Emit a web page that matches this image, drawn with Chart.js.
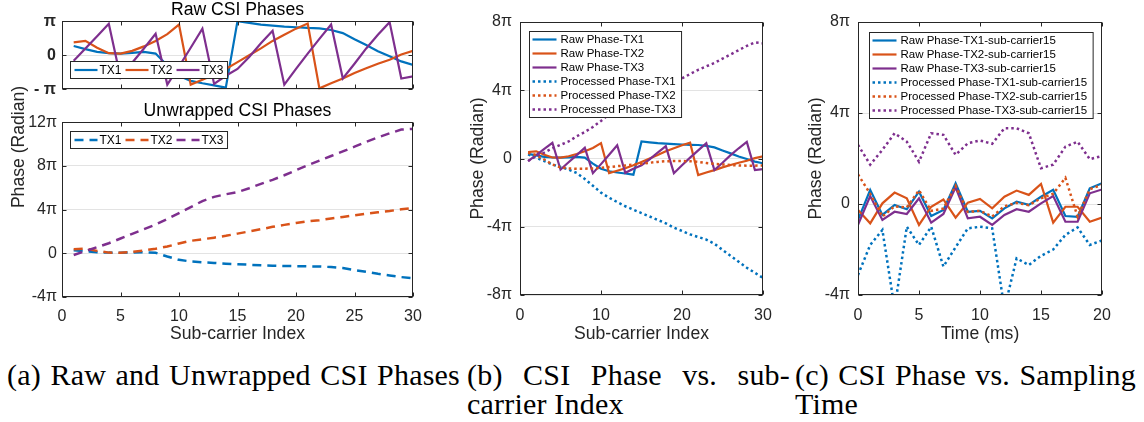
<!DOCTYPE html>
<html>
<head>
<meta charset="utf-8">
<script src="https://cdn.jsdelivr.net/npm/chart.js@4.4.0/dist/chart.umd.min.js"></script>
<style>
  body { margin: 0; background: #fff; width: 1144px; height: 422px; position: relative; overflow: hidden; }
  canvas { position: absolute; }
  .cap { position: absolute; font-family: "Liberation Serif", "DejaVu Serif", serif; font-size: 30px; letter-spacing: 0.2px;
         line-height: 30px; color: #000; white-space: nowrap; text-align: justify; text-align-last: justify; }
  .cap.last { text-align: left; text-align-last: left; }
  .ylab { position: absolute; width: 140px; height: 20px; line-height: 20px; text-align: center;
          font-family: "Liberation Sans", Arial, sans-serif; font-size: 17.6px; color: #262626; transform: rotate(-90deg); }
</style>
</head>
<body>
<canvas id="aTop" width="430" height="105" style="left:0;top:0"></canvas>
<canvas id="aBot" width="430" height="245" style="left:0;top:100px"></canvas>
<canvas id="b" width="320" height="345" style="left:460px;top:0"></canvas>
<canvas id="c" width="320" height="345" style="left:800px;top:0"></canvas>
<div class="ylab" style="left:-52px;top:137px">Phase (Radian)</div>
<div class="cap" style="left:7px;top:360px;width:453px">(a) Raw and Unwrapped CSI Phases</div>
<div class="cap" style="left:467px;top:360px;width:323px">(b) CSI Phase vs. sub-</div>
<div class="cap last" style="left:467px;top:389px">carrier Index</div>
<div class="cap" style="left:795px;top:360px;width:341px">(c) CSI Phase vs. Sampling</div>
<div class="cap last" style="left:795px;top:389px">Time</div>
<script>
// values are in units of pi
const subcarrier = [1,2,3,4,5,6,7,8,9,10,11,12,13,14,15,16,17,18,19,20,21,22,23,24,25,26,27,28,29,30];
const timeMs = [0,1,2,3,4,5,6,7,8,9,10,11,12,13,14,15,16,17,18,19,20];

const rawTX1 = [0.27,0.18,0.10,0.06,0.05,0.07,0.10,0.05,-0.30,-0.60,-0.75,-0.82,-0.88,-0.95,1.00,0.95,0.90,0.87,0.84,0.82,0.80,0.79,0.74,0.65,0.47,0.30,0.12,-0.03,-0.18,-0.28];
const rawTX2 = [0.38,0.42,0.22,0.06,0.05,0.13,0.26,0.42,0.62,0.90,-0.86,-0.72,-0.57,-0.40,-0.20,0.00,0.20,0.42,0.60,0.78,0.93,-0.97,-0.82,-0.68,-0.52,-0.38,-0.25,-0.13,0.02,0.13];
const rawTX3 = [-0.16,0.20,0.56,0.92,-0.65,-0.22,0.20,0.63,-0.86,-0.33,0.22,0.78,-0.84,-0.60,-0.40,-0.05,0.35,0.72,-0.86,-0.40,0.05,0.48,0.90,-0.68,-0.25,0.20,0.60,0.97,-0.68,-0.62];

const unwrapTX1 = [0.27,0.18,0.10,0.06,0.05,0.07,0.10,0.05,-0.30,-0.60,-0.75,-0.82,-0.88,-0.95,-1.00,-1.05,-1.10,-1.13,-1.16,-1.18,-1.20,-1.21,-1.26,-1.35,-1.53,-1.70,-1.88,-2.03,-2.18,-2.28];
const unwrapTX2 = [0.38,0.42,0.22,0.06,0.05,0.13,0.26,0.42,0.62,0.90,1.14,1.28,1.43,1.60,1.80,2.00,2.20,2.42,2.60,2.78,2.93,3.03,3.18,3.32,3.48,3.62,3.75,3.87,4.02,4.13];
const unwrapTX3 = [-0.16,0.20,0.56,0.92,1.35,1.78,2.20,2.63,3.14,3.67,4.22,4.78,5.16,5.40,5.60,5.95,6.35,6.72,7.14,7.60,8.05,8.48,8.90,9.32,9.75,10.20,10.60,10.97,11.32,11.38];

const procTX1 = [0.24,0.05,-0.15,-0.35,-0.50,-0.65,-0.85,-1.20,-1.60,-2.00,-2.30,-2.55,-2.80,-3.00,-3.20,-3.40,-3.60,-3.80,-4.05,-4.25,-4.45,-4.60,-4.75,-5.00,-5.35,-5.70,-6.05,-6.40,-6.70,-7.00];
const procTX2 = [0.33,0.20,-0.06,-0.35,-0.52,-0.58,-0.60,-0.60,-0.58,-0.55,-0.50,-0.45,-0.41,-0.36,-0.31,-0.25,-0.20,-0.16,-0.15,-0.15,-0.16,-0.20,-0.26,-0.31,-0.35,-0.38,-0.41,-0.42,-0.42,-0.41];
const procTX3 = [-0.15,0.15,0.35,0.60,0.80,1.00,1.30,1.55,1.85,2.20,2.60,3.00,3.30,3.55,3.70,3.85,4.00,4.20,4.45,4.70,4.95,5.20,5.40,5.60,5.85,6.10,6.35,6.60,6.80,6.75];

const timeRawTX1 = [-0.70,0.62,-0.48,-0.04,-0.23,0.54,-0.53,-0.26,0.91,-0.34,-0.30,-0.63,-0.19,0.10,-0.04,0.32,0.62,-0.53,-0.56,0.69,0.91];
const timeRawTX2 = [-0.26,-0.85,0.03,0.50,0.25,-0.92,-0.12,0.20,-0.60,0.06,0.22,-0.19,0.32,0.59,0.40,0.88,-0.82,-0.12,-0.12,-0.78,-0.60];
const timeRawTX3 = [-0.92,0.35,-0.70,-0.34,-0.44,0.25,-0.82,-0.44,0.73,-0.63,-0.56,-0.92,-0.48,-0.23,-0.34,0.03,0.35,-0.78,-0.78,0.47,0.64];
const timeProcTX1 = [-3.12,-1.80,-1.14,-4.60,-1.00,-1.80,-1.00,-2.75,-1.90,-1.07,-1.00,-1.07,-4.60,-2.39,-2.68,-2.28,-2.00,-1.36,-1.03,-1.80,-1.60];
const timeProcTX2 = [1.30,0.45,-0.55,-0.10,-0.15,0.60,-0.30,-0.20,0.80,-0.35,-0.30,-0.55,-0.10,0.05,-0.05,0.25,0.45,1.15,-0.56,0.65,0.85];
const timeProcTX3 = [2.60,1.73,2.38,3.11,2.74,1.86,3.11,3.04,2.16,2.67,2.79,2.65,3.33,3.33,3.11,1.57,1.73,2.52,2.74,1.97,2.11];

const colors = ['#0072BD', '#D95319', '#7E2F8E'];

Chart.defaults.font.family = '"Liberation Sans", Arial, sans-serif';
Chart.defaults.color = '#262626';

const piTick = v => v === 0 ? '0' : v === 1 ? 'π' : v === -1 ? '- π' : v + 'π';
const pts = (xs, ys) => xs.map((x, i) => ({ x: x, y: ys[i] }));
const DASH = { solid: [], dash: [9, 6], dot: [2.5, 3] };

const series = (label, xs, ys, color, style) => ({
    label: label,
    data: pts(xs, ys),
    borderColor: color,
    backgroundColor: color,
    borderWidth: style === 'solid' ? 2.2 : 2.5,
    borderDash: DASH[style],
    borderCapStyle: 'butt',
    borderJoinStyle: 'miter',
    pointRadius: 0,
    tension: 0,
    fill: false
});

// matlab style box with inward ticks
const frame = {
    id: 'frame',
    afterDraw(chart) {
        const { ctx, chartArea: a, scales } = chart;
        const L = Math.round(a.left) + 0.5, R = Math.round(a.right) - 0.5;
        const T = Math.round(a.top) + 0.5, B = Math.round(a.bottom) - 0.5;
        ctx.save();
        ctx.strokeStyle = '#262626';
        ctx.lineWidth = 1;
        ctx.strokeRect(L, T, R - L, B - T);
        ctx.beginPath();
        scales.x.ticks.forEach(t => {
            const p = Math.round(scales.x.getPixelForValue(t.value)) + 0.5;
            ctx.moveTo(p, B); ctx.lineTo(p, B - 4);
            ctx.moveTo(p, T); ctx.lineTo(p, T + 4);
        });
        scales.y.ticks.forEach(t => {
            const p = Math.round(scales.y.getPixelForValue(t.value)) + 0.5;
            ctx.moveTo(L, p); ctx.lineTo(L + 4, p);
            ctx.moveTo(R, p); ctx.lineTo(R - 4, p);
        });
        ctx.stroke();
        ctx.restore();
    }
};

const boxLegend = {
    id: 'boxLegend',
    afterDatasetsDraw(chart, args, opts) {
        const { ctx, chartArea: a } = chart;
        const sets = chart.data.datasets;
        ctx.save();
        ctx.font = opts.size + 'px "Liberation Sans", Arial, sans-serif';
        const widths = sets.map(d => ctx.measureText(d.label).width);
        const x0 = Math.round(a.left + opts.dx) + 0.5, y0 = Math.round(a.top + opts.dy) + 0.5;
        let w, h;
        if (opts.row) {
            w = opts.pad + widths.reduce((s, tw) => s + opts.sample + opts.gap + tw + 4, 0);
            h = opts.rowH;
        } else {
            w = opts.pad + opts.sample + opts.gap + Math.max(...widths) + 6;
            h = sets.length * opts.rowH + opts.top * 2;
        }
        ctx.fillStyle = '#fff';
        ctx.fillRect(x0, y0, w, h);
        ctx.strokeStyle = '#262626';
        ctx.lineWidth = 1;
        ctx.strokeRect(x0, y0, w, h);
        let cx = x0 + opts.pad, cy = y0 + opts.top + opts.rowH / 2;
        sets.forEach((d, i) => {
            ctx.strokeStyle = d.borderColor;
            ctx.lineWidth = d.borderWidth;
            ctx.setLineDash(d.borderDash);
            ctx.lineCap = 'butt';
            ctx.beginPath();
            ctx.moveTo(cx, cy);
            ctx.lineTo(cx + opts.sample, cy);
            ctx.stroke();
            ctx.setLineDash([]);
            ctx.fillStyle = '#000';
            ctx.textBaseline = 'middle';
            ctx.textAlign = 'left';
            ctx.fillText(d.label, cx + opts.sample + opts.gap, cy + 0.5);
            if (opts.row) cx += opts.sample + opts.gap + widths[i] + 4;
            else cy += opts.rowH;
        });
        ctx.restore();
    }
};

function makeChart(id, datasets, o) {
    datasets.forEach((d, i) => { d.order = -i; });
    return new Chart(document.getElementById(id), {
        type: 'line',
        data: { datasets: datasets },
        options: {
            responsive: false,
            animation: false,
            devicePixelRatio: 1,
            layout: { padding: o.pad },
            plugins: {
                legend: { display: false },
                tooltip: { enabled: false },
                title: o.title ? {
                    display: true, text: o.title, fullSize: false, color: '#000',
                    font: { size: 17.6, weight: 'normal' }, padding: o.titlePad
                } : { display: false },
                boxLegend: o.legend || false
            },
            scales: {
                x: {
                    type: 'linear', min: o.x[0], max: o.x[1],
                    ticks: { stepSize: o.x[2], display: o.xLabels, padding: o.xPad, autoSkip: false, maxRotation: 0, font: { size: 16 } },
                    grid: { display: false },
                    border: { display: false },
                    title: o.xTitle ? { display: true, text: o.xTitle, font: { size: 17.6 }, padding: { top: 0, bottom: o.xTitlePad } } : { display: false },
                    afterFit: s => { s.height = o.xH; }
                },
                y: {
                    type: 'linear', min: o.y[0], max: o.y[1],
                    ticks: { stepSize: o.y[2], padding: o.yPad, autoSkip: false, callback: piTick, font: { size: 16, weight: o.yBold ? 'bold' : 'normal' } },
                    grid: { color: '#e3e3e3', drawTicks: false },
                    border: { display: false },
                    title: o.yTitle ? { display: true, text: o.yTitle, font: { size: 17.6 }, padding: { top: o.yTitlePad, bottom: 0 } } : { display: false },
                    afterFit: s => { s.width = o.yW; }
                }
            }
        },
        plugins: [frame, boxLegend]
    });
}

const rawSets = [rawTX1, rawTX2, rawTX3];
const names = ['TX1', 'TX2', 'TX3'];

makeChart('aTop',
    names.map((n, i) => series(n, subcarrier, rawSets[i], colors[i], 'solid')),
    { pad: { left: 0, right: 17, top: 0, bottom: 0 }, title: 'Raw CSI Phases', titlePad: { top: 0, bottom: 0 },
      x: [0, 30, 5], xLabels: false, xPad: 0, xH: 10,
      y: [-1, 1, 1], yPad: 6, yW: 62, yBold: true,
      legend: { row: true, dx: 8, dy: 40, rowH: 17, top: 0, pad: 4, sample: 23, gap: 2, size: 12 } });

makeChart('aBot',
    [series('TX1', subcarrier, unwrapTX1, colors[0], 'dash'),
     series('TX2', subcarrier, unwrapTX2, colors[1], 'dash'),
     series('TX3', subcarrier, unwrapTX3, colors[2], 'dash')],
    { pad: { left: 0, right: 17, top: 0, bottom: 0 }, title: 'Unwrapped CSI Phases', titlePad: { top: 1, bottom: 0 },
      x: [0, 30, 5], xLabels: true, xPad: 2, xH: 48, xTitle: 'Sub-carrier Index', xTitlePad: 0,
      y: [-4, 12, 4], yPad: 5, yW: 62,
      legend: { row: true, dx: 8, dy: 9, rowH: 17, top: 0, pad: 4, sample: 23, gap: 2, size: 12 } });

makeChart('b',
    [series('Raw Phase-TX1', subcarrier, rawTX1, colors[0], 'solid'),
     series('Raw Phase-TX2', subcarrier, rawTX2, colors[1], 'solid'),
     series('Raw Phase-TX3', subcarrier, rawTX3, colors[2], 'solid'),
     series('Processed Phase-TX1', subcarrier, procTX1, colors[0], 'dot'),
     series('Processed Phase-TX2', subcarrier, procTX2, colors[1], 'dot'),
     series('Processed Phase-TX3', subcarrier, procTX3, colors[2], 'dot')],
    { pad: { left: 0, right: 17, top: 22, bottom: 0 },
      x: [0, 30, 10], xLabels: true, xPad: 3, xH: 50, xTitle: 'Sub-carrier Index', xTitlePad: 0,
      y: [-8, 8, 4], yPad: 8, yW: 60, yTitle: 'Phase (Radian)', yTitlePad: 8,
      legend: { row: false, dx: 9, dy: 9, rowH: 14, top: 1, pad: 3, sample: 24, gap: 4, size: 11.5 } });

makeChart('c',
    [series('Raw Phase-TX1-sub-carrier15', timeMs, timeRawTX1, colors[0], 'solid'),
     series('Raw Phase-TX2-sub-carrier15', timeMs, timeRawTX2, colors[1], 'solid'),
     series('Raw Phase-TX3-sub-carrier15', timeMs, timeRawTX3, colors[2], 'solid'),
     series('Processed Phase-TX1-sub-carrier15', timeMs, timeProcTX1, colors[0], 'dot'),
     series('Processed Phase-TX2-sub-carrier15', timeMs, timeProcTX2, colors[1], 'dot'),
     series('Processed Phase-TX3-sub-carrier15', timeMs, timeProcTX3, colors[2], 'dot')],
    { pad: { left: 0, right: 18, top: 22, bottom: 0 },
      x: [0, 20, 5], xLabels: true, xPad: 3, xH: 50, xTitle: 'Time (ms)', xTitlePad: 0,
      y: [-4, 8, 4], yPad: 8, yW: 58, yTitle: 'Phase (Radian)', yTitlePad: 6,
      legend: { row: false, dx: 11, dy: 10, rowH: 14, top: 1, pad: 3, sample: 24, gap: 4, size: 11.5 } });
</script>
</body>
</html>
